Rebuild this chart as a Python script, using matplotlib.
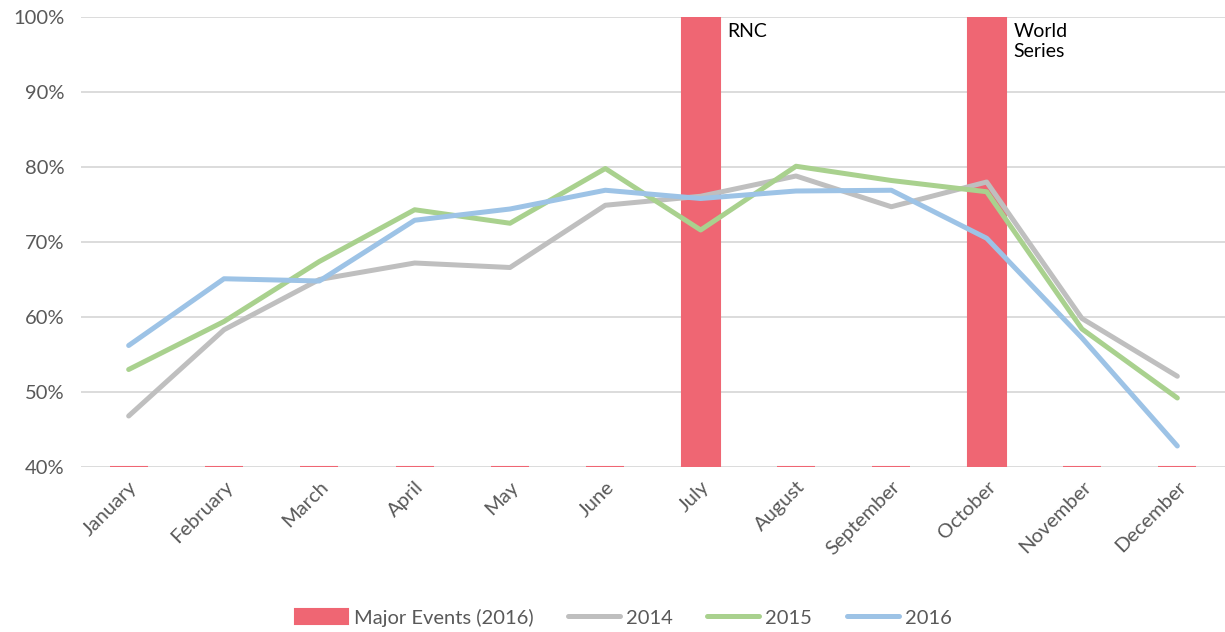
import numpy as np
import matplotlib.pyplot as plt
from matplotlib.ticker import FuncFormatter

months = ['January', 'February', 'March', 'April', 'May', 'June', 'July',
          'August', 'September', 'October', 'November', 'December']
major_events = [40, 40, 40, 40, 40, 40, 100, 40, 40, 100, 40, 40]
y2014 = [46.8, 58.3, 65.0, 67.2, 66.6, 74.9, 76.1, 78.8, 74.7, 78.0, 59.8, 52.1]
y2015 = [53.0, 59.4, 67.4, 74.3, 72.5, 79.8, 71.6, 80.1, 78.2, 76.7, 58.4, 49.2]
y2016 = [56.2, 65.1, 64.8, 72.9, 74.4, 76.9, 75.8, 76.8, 76.9, 70.5, 57.2, 42.8]
event_labels = {6: 'RNC', 9: 'World\nSeries'}

plt.rcParams['font.family'] = ['Lato', 'DejaVu Sans']

fig = plt.figure(figsize=(12.25, 6.32), dpi=100)
ax = fig.add_axes([81/1225, 1 - 467/632, 1144/1225, 450/632])

x = np.arange(len(months))
base = 40
bars = ax.bar(x, np.array(major_events) - base, bottom=base, width=0.4,
              color='#EF6673', edgecolor='#EF6673', linewidth=1.5,
              label='Major Events (2016)', zorder=2)
l1, = ax.plot(x, y2014, color='#BFBFBF', linewidth=3.6, label='2014',
              solid_capstyle='round', solid_joinstyle='round', zorder=3)
l2, = ax.plot(x, y2015, color='#A9D18E', linewidth=3.6, label='2015',
              solid_capstyle='round', solid_joinstyle='round', zorder=3)
l3, = ax.plot(x, y2016, color='#9DC3E6', linewidth=3.6, label='2016',
              solid_capstyle='round', solid_joinstyle='round', zorder=3)

for i, txt in event_labels.items():
    ax.text(i + 0.28, 99.2, txt, ha='left', va='top', fontsize=14,
            color='black', linespacing=1.2, zorder=4)

ax.set_xlim(-0.5, 11.5)
ax.set_ylim(40, 100)
ax.set_yticks(np.arange(40, 101, 10))
ax.yaxis.set_major_formatter(FuncFormatter(lambda v, p: '%d%%' % v))
ax.set_xticks(x)
ax.set_xticklabels(months, rotation=45, ha='right', rotation_mode='anchor')
ax.tick_params(axis='both', length=0, labelsize=14.5, colors='#595959')
ax.tick_params(axis='x', pad=8)
ax.tick_params(axis='y', pad=12)
ax.grid(axis='y', color='#D9D9D9', linewidth=1.3, zorder=0)
ax.set_axisbelow(True)
for s in ax.spines.values():
    s.set_visible(False)

leg = fig.legend([bars, l1, l2, l3],
                 ['Major Events (2016)', '2014', '2015', '2016'],
                 loc='lower center', bbox_to_anchor=(0.509, -0.02), ncol=4,
                 frameon=False, fontsize=14.5, handlelength=2.6,
                 columnspacing=1.7, handletextpad=0.3)
for t in leg.get_texts():
    t.set_color('#595959')

fig.savefig('out.png', dpi=100)
